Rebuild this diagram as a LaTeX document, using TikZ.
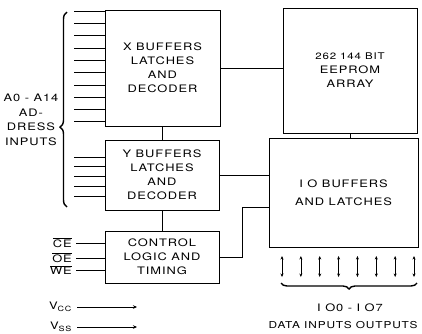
\documentclass[tikz,border=0pt]{standalone}
\usepackage{fontspec}
\setmainfont[FakeStretch=1.25,LetterSpace=9]{TeX Gyre Heros}
\usetikzlibrary{arrows.meta,positioning,decorations.pathreplacing}

\begin{document}
\begin{tikzpicture}[
    x=1pt,
    y=-1pt,
    font=\fontsize{10.3}{14}\selectfont,
    block/.style={rectangle, draw=black, line width=0.7pt, align=center, inner sep=0pt},
    wire/.style={draw=black, line width=0.6pt},
    supply/.style={wire, -{Stealth[length=4pt,width=3.5pt]}},
    bus/.style={wire, {Stealth[length=3.5pt,width=3pt]}-{Stealth[length=3.5pt,width=3pt]}},
    curly/.style={draw=black, line width=1.4pt, decorate, decoration={brace, amplitude=7pt}}
  ]
    \useasboundingbox (0,0) rectangle (422,333);

    \node[block, minimum width=115, minimum height=116] (xbuf) at (162.5,68) {X BUFFERS\\LATCHES\\AND\\DECODER};
    \node[block, minimum width=114, minimum height=70] (ybuf) at (162,175) {Y BUFFERS\\LATCHES\\AND\\DECODER};
    \node[block, minimum width=114, minimum height=52] (ctrl) at (162,257) {CONTROL\\LOGIC AND\\TIMING};
    \node[block, minimum width=134, minimum height=125] (array) at (350,70.5) {{\fontsize{9.2}{14}\selectfont 262 144 BIT}\\EEPROM\\ARRAY};
    \node[block, minimum width=149, minimum height=109] (iobuf) at (343.5,192.5) {I O BUFFERS\\[4pt]AND LATCHES};

    \draw[wire] (xbuf.east) -- (xbuf.east -| array.west);
    \draw[wire] (array.south) -- (array.south |- iobuf.north);
    \draw[wire] (xbuf.south) -- (xbuf.south |- ybuf.north);
    \draw[wire] (ybuf.east) -- (ybuf.east -| iobuf.west);
    \draw[wire] (ybuf.south) -- (ybuf.south |- ctrl.north);
    \draw[wire] (ctrl.east) -- ++(23,0) |- ([yshift=-15pt]iobuf.west);

    % address inputs
    \foreach \i in {0,...,9} {
      \coordinate (ax\i) at (74,{11+12.3*\i});
      \draw[wire] (ax\i) -- (ax\i -| xbuf.west);
    }
    \foreach \i in {0,...,4} {
      \coordinate (ay\i) at (74,{157+9.75*\i});
      \draw[wire] (ay\i) -- (ay\i -| ybuf.west);
    }
    \draw[curly, decoration={aspect=0.41}] (67,207) -- (67,12);
    \node[align=center, font=\fontsize{10.3}{14.5}\selectfont] (addr) at (31,120) {A0 - A14\\AD-\\DRESS\\INPUTS};

    % control inputs
    \foreach \y/\nm/\txt in {243/ce/CE, 258/oe/OE, 270/we/WE} {
      \coordinate (\nm) at (76,\y);
      \draw[wire] (\nm) -- (\nm -| ctrl.west);
      \node[left=4pt of \nm, inner sep=0pt] (\nm lbl) {$\overline{\hbox{\txt}}$};
    }

    % supply
    \coordinate (vcc) at (77,307);
    \coordinate (vccend) at (137,307);
    \coordinate (vss) at (77,327);
    \coordinate (vssend) at (137,327);
    \draw[supply] (vcc) -- (vccend);
    \draw[supply] (vss) -- (vssend);
    \node[left=5pt of vcc, inner sep=0pt] (vcclbl) {V\textsubscript{CC}};
    \node[left=5pt of vss, inner sep=0pt] (vsslbl) {V\textsubscript{SS}};

    % data bus
    \foreach \i in {0,...,7} {
      \coordinate (dt\i) at ({282+18.86*\i},256);
      \coordinate (db\i) at ({282+18.86*\i},277);
      \draw[bus] (dt\i) -- (db\i);
    }
    \draw[curly, decoration={amplitude=6pt}] (417,283) -- (281,283);
    \node (iolbl) at (350,308) {I O0 - I O7};
    \node[font=\fontsize{9.5}{14}\selectfont] (datalbl) at (343,325) {DATA INPUTS OUTPUTS};
  \end{tikzpicture}
\end{document}
